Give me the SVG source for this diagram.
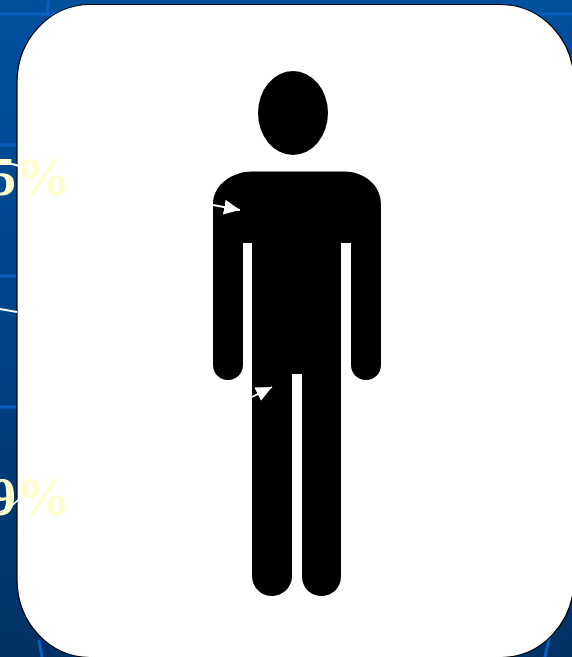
<svg xmlns="http://www.w3.org/2000/svg" width="572" height="657" viewBox="0 0 572 657">
  <defs>
    <linearGradient id="bg" x1="0" y1="0" x2="0" y2="1">
      <stop offset="0" stop-color="#00509e"/>
      <stop offset="0.5" stop-color="#004387"/>
      <stop offset="1" stop-color="#003164"/>
    </linearGradient>
    <marker id="head" markerUnits="userSpaceOnUse" markerWidth="20" markerHeight="18" refX="16" refY="8" orient="auto">
      <path d="M0 0.500L16 8L0 15.500Z" fill="#fff"/>
    </marker>
  </defs>
  <style>
    .grid{stroke:#0a5fc0;stroke-width:3;fill:none}
    .lead{stroke:#fff;stroke-width:1.800;fill:none}
    .pct{font-family:"Liberation Serif","Times New Roman",serif;font-weight:700;font-size:54px;fill:#ffffcc;text-anchor:end}
    .fig{fill:#000}
  </style>
  <g id="background">
    <rect width="572" height="657" fill="url(#bg)"/>
    <path class="grid" d="M0 14H572M0 145H17M0 276H17M0 407H17M49 0L47 14M42 657L39 640M545 657L552 625"/>
  </g>
  <g id="card">
    <rect x="17" y="4.500" width="557" height="653" rx="73" ry="78" fill="#fff" stroke="#000" stroke-width="1.200"/>
  </g>
  <g id="figure">
    <ellipse class="fig" cx="293" cy="113" rx="35" ry="42"/>
    <path class="fig" d="M252 171.500H344C364 171.500 381 185 381 204V365C381 373 375 380 366 380C357 380 351 373 351 365V243H341V576C341 587 333 596 321.500 596C310 596 302 587 302 576V374H292V576C292 587 283 596 272 596C261 596 252 587 252 576V243H243V365C243 373 237 380 228 380C219 380 213 373 213 365V204C213 185 232 171.500 252 171.500Z"/>
  </g>
  <g id="label-top">
    <text class="pct" x="70" y="195">5%</text>
  </g>
  <g id="label-bottom">
    <text class="pct" x="70" y="515">9%</text>
  </g>
  <g id="connectors">
    <path class="lead" d="M3 162Q14 164 25 168"/>
    <path class="lead" d="M0 309L17 312"/>
    <path class="lead" d="M0 512Q10 509 20 498"/>
    <path class="lead" d="M213 205L240 210" marker-end="url(#head)"/>
    <path class="lead" d="M252 397L272 387" marker-end="url(#head)"/>
  </g>
</svg>
